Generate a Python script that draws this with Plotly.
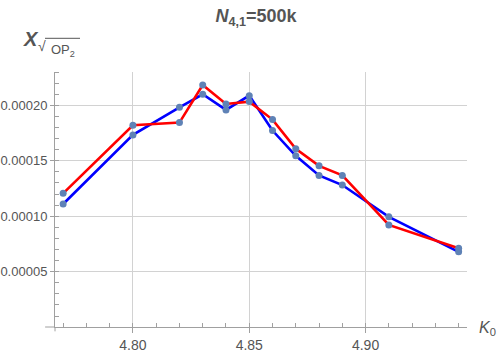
import plotly.graph_objects as go

k0 = [4.77, 4.80, 4.82, 4.83, 4.84, 4.85, 4.86, 4.87, 4.88, 4.89, 4.91, 4.94]
blue_vals = [0.0001110, 0.0001733, 0.0001982, 0.0002099, 0.0001958, 0.0002087,
             0.0001772, 0.0001544, 0.0001368, 0.0001281, 0.0000994, 0.0000679]
red_vals = [0.0001206, 0.0001820, 0.0001844, 0.0002183, 0.0002012, 0.0002033,
            0.0001871, 0.0001607, 0.0001454, 0.0001368, 0.0000921, 0.0000711]

TXT = "#555555"
GRID = "#d2d2d2"
AX = "#a0a0a0"
MARK = "#5f82b6"

fig = go.Figure()
fig.add_trace(go.Scatter(x=k0, y=blue_vals, mode="lines",
                         line=dict(color="#0000ff", width=2.6), showlegend=False, hoverinfo="skip"))
fig.add_trace(go.Scatter(x=k0, y=red_vals, mode="lines",
                         line=dict(color="#ff0000", width=2.6), showlegend=False, hoverinfo="skip"))
fig.add_trace(go.Scatter(x=k0, y=blue_vals, mode="markers",
                         marker=dict(color=MARK, size=7), showlegend=False))
fig.add_trace(go.Scatter(x=k0, y=red_vals, mode="markers",
                         marker=dict(color=MARK, size=7), showlegend=False))

fig.update_layout(
    width=500, height=352,
    margin=dict(l=55, r=33, t=72, b=25, autoexpand=False),
    paper_bgcolor="white", plot_bgcolor="white",
    font=dict(family="Liberation Sans, Arial, sans-serif", color=TXT, size=14),
    title=dict(text="<b><i>N</i><sub>4,1</sub>=500k</b>", x=0.512, xanchor="center",
               y=0.955, yanchor="middle", font=dict(size=18, color=TXT)),
)
fig.update_xaxes(
    range=[4.7665, 4.9436], tick0=4.80, dtick=0.05, tickformat=".2f",
    automargin=False,
    showgrid=True, gridcolor=GRID, gridwidth=1, zeroline=False,
    showline=True, linecolor=AX, linewidth=1,
    ticks="outside", ticklen=5, tickcolor=AX,
    minor=dict(dtick=0.01, tick0=4.80, ticks="inside", ticklen=4, tickcolor=AX, showgrid=False),
    tickfont=dict(size=14, color=TXT),
)
fig.update_yaxes(
    range=[0.0000001, 0.00023], tick0=0, dtick=0.00005, tickformat=".5f",
    automargin=False,
    showgrid=True, gridcolor=GRID, gridwidth=1, zeroline=False,
    showline=True, linecolor=AX, linewidth=1,
    ticks="outside", ticklen=4, tickcolor=AX,
    minor=dict(dtick=0.00001, tick0=0, ticks="inside", ticklen=4, tickcolor=AX, showgrid=False),
    tickfont=dict(size=13, color=TXT),
)

# axis extensions (axes crossing)
fig.add_shape(type="line", xref="paper", yref="paper", x0=-0.024, x1=0, y0=0, y1=0,
              line=dict(color=AX, width=1))
fig.add_shape(type="line", xref="paper", yref="paper", x0=0, x1=0, y0=-0.017, y1=0,
              line=dict(color=AX, width=1))

# y-axis label X_{sqrt(OP2)}
fig.add_annotation(text="<b><i>X</i></b>", xref="paper", yref="paper",
                   x=(31 - 55) / 412, y=(327 - 39) / 255, xanchor="center", yanchor="middle",
                   showarrow=False, font=dict(size=20, color=TXT))
fig.add_annotation(text="√", xref="paper", yref="paper",
                   x=(42 - 55) / 412, y=(327 - 46) / 255, xanchor="center", yanchor="middle",
                   showarrow=False, font=dict(size=14, color=TXT))
fig.add_annotation(text="OP<sub>2</sub>", xref="paper", yref="paper",
                   x=(63 - 55) / 412, y=(327 - 50) / 255, xanchor="center", yanchor="middle",
                   showarrow=False, font=dict(size=13, color=TXT))
fig.add_shape(type="line", xref="paper", yref="paper",
              x0=(45 - 55) / 412, x1=(80 - 55) / 412, y0=(327 - 38.3) / 255, y1=(327 - 38.3) / 255,
              line=dict(color=TXT, width=1))

# x-axis label K_0
fig.add_annotation(text="<i>K</i><sub>0</sub>", xref="paper", yref="paper",
                   x=(487 - 55) / 412, y=(327 - 328) / 255, xanchor="center", yanchor="middle",
                   showarrow=False, font=dict(size=16, color=TXT))

fig.write_html("out.html", config={"displayModeBar": False},
               post_script="document.body.style.margin='0';")
